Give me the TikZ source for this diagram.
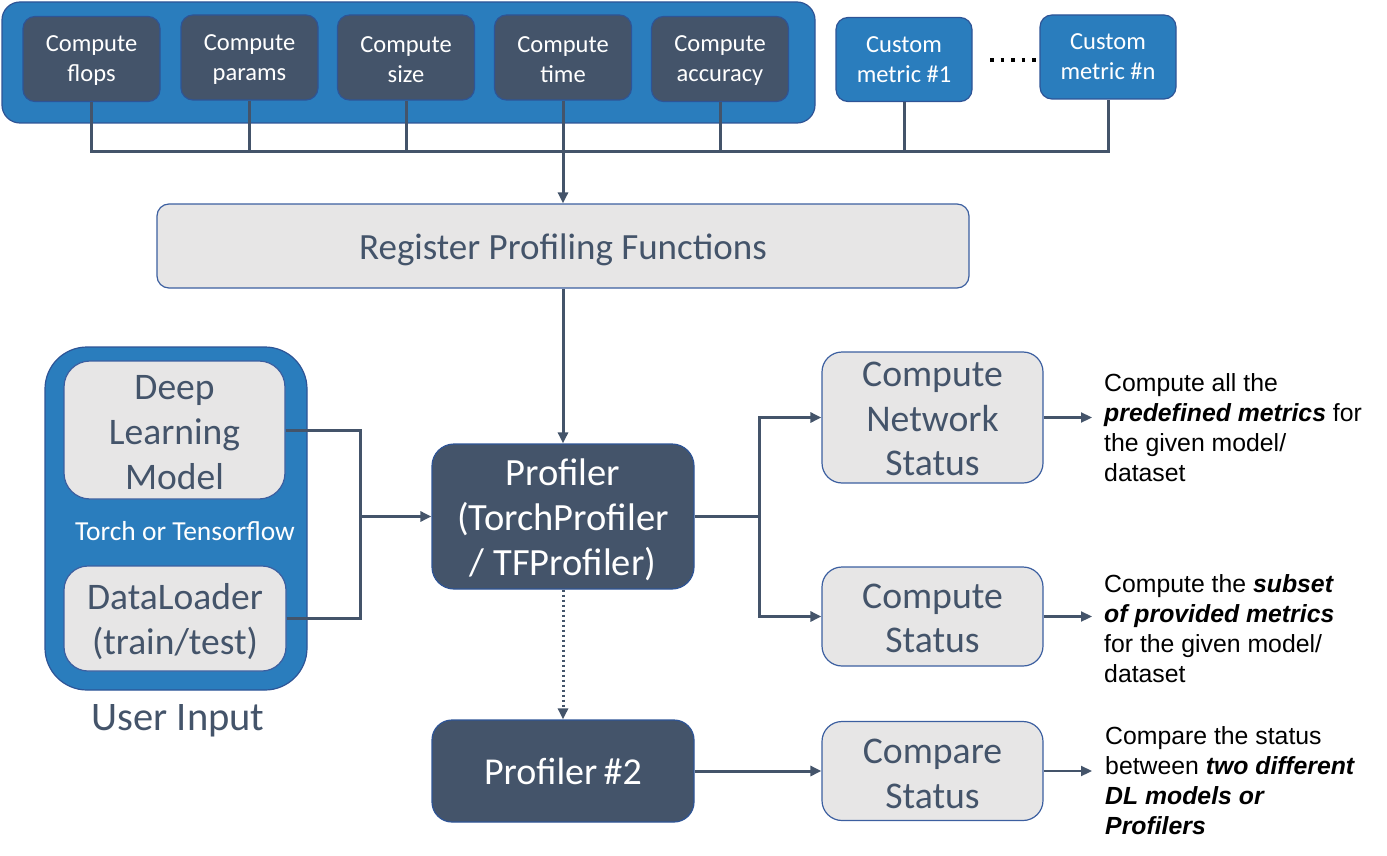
\documentclass[tikz,border=0pt]{standalone}
\usepackage{fontspec}
\setmainfont{Carlito}
\newfontfamily\arialf{Liberation Sans}
\usetikzlibrary{arrows.meta}
\definecolor{darkc}{RGB}{68,84,106}
\definecolor{bluec}{RGB}{42,125,189}
\definecolor{bluebd}{RGB}{46,84,150}
\definecolor{grayc}{RGB}{231,230,230}
\definecolor{grbd}{RGB}{60,95,160}
\begin{document}
\begin{tikzpicture}[x=1pt,y=-1pt,
  box/.style={inner sep=0pt, align=center, line width=1.2pt},
  darkbox/.style={box, fill=darkc, draw=bluebd, text=white},
  metric/.style={darkbox, rounded corners=12pt, minimum width=137pt, minimum height=85pt},
  custom/.style={box, fill=bluec, draw=bluebd, text=white, rounded corners=12pt, minimum width=136pt, minimum height=84pt, font=\fontsize{24.5}{30}\selectfont},
  graybox/.style={box, fill=grayc, draw=grbd, text=darkc},
  container/.style={box, fill=bluec, draw=bluebd},
  wtxt/.style={inner sep=0pt, align=center, text=white},
  gtxt/.style={inner sep=0pt, align=center, text=darkc},
  mtxt/.style={wtxt, font=\fontsize{24.5}{30}\selectfont},
  line/.style={draw=darkc, line width=3pt},
  arr/.style={line, -{Triangle[length=11pt,width=10pt]}},
  ann/.style={anchor=north west, inner sep=0pt, align=left, text=black, font=\arialf\fontsize{24.8}{30}\selectfont}
]
\useasboundingbox (0,0) rectangle (1387,856);

% top container and metric boxes
\node[container, rounded corners=18pt, minimum width=813pt, minimum height=121pt] (topc) at (408.5,62.5) {};
\node[metric] (flops) at (91.5,59) {};
\node[metric] (params) at (249.5,57.5) {};
\node[metric] (size) at (406,57.5) {};
\node[metric] (time) at (563,57.5) {};
\node[metric] (acc) at (720,59) {};
\node[mtxt] (flopsT) at ([yshift=-2pt]flops.center) {Compute\\flops};
\node[mtxt] (paramsT) at ([yshift=-2pt]params.center) {Compute\\params};
\node[mtxt] (sizeT) at ([yshift=-2pt]size.center) {Compute\\size};
\node[mtxt] (timeT) at ([yshift=-2pt]time.center) {Compute\\time};
\node[mtxt] (accT) at ([yshift=-2pt]acc.center) {Compute\\accuracy};
\node[custom] (cm1) at (904,59.5) {Custom\\metric \#1};
\node[custom] (cmn) at (1108,57) {Custom\\metric \#n};
\coordinate (dotsA) at (990,60);
\coordinate (dotsB) at (1038,60);
\draw[black, line width=3.5pt, dash pattern=on 3.5pt off 7pt] (dotsA) -- (dotsB);

% bus
\coordinate (busL) at (91.5,152);
\coordinate (busR) at (1108,152);
\draw[line] (flops.south) -- (busL) -- (busR) -- (cmn.south);
\draw[line] (params.south) -- (params.south |- busL);
\draw[line] (size.south) -- (size.south |- busL);
\draw[line] (acc.south) -- (acc.south |- busL);
\draw[line] (cm1.south) -- (cm1.south |- busL);

% register
\node[graybox, rounded corners=12pt, minimum width=812pt, minimum height=84pt] (reg) at (563,246) {};
\node[gtxt, font=\fontsize{37}{40}\selectfont] (regT) at ([yshift=-3.5pt]reg.center) {Register Profiling Functions};
\draw[arr] (time.south) -- (reg.north);

% profiler
\node[darkbox, rounded corners=22pt, minimum width=262pt, minimum height=145pt] (prof) at (563,516.5) {};
\node[wtxt, font=\fontsize{38.5}{45}\selectfont] (profT) at ([yshift=-3pt]prof.center) {Profiler\\(TorchProfiler\\/ TFProfiler)};
\draw[arr] (reg.south) -- (prof.north);
\node[darkbox, rounded corners=20pt, minimum width=262pt, minimum height=102pt, font=\fontsize{38}{45}\selectfont] (prof2) at (563,771) {Profiler\,\#2};
\draw[arr, dash pattern=on 2.5pt off 2.5pt] (prof.south) -- (prof2.north);

% user input
\node[container, rounded corners=42pt, minimum width=262pt, minimum height=343pt] (user) at (176,518.5) {};
\node[graybox, rounded corners=26pt, minimum width=221pt, minimum height=138pt] (dlm) at (174.5,430) {};
\node[gtxt, font=\fontsize{37.5}{45}\selectfont] (dlmT) at ([yshift=-3pt]dlm.center) {Deep\\Learning\\Model};
\node[graybox, rounded corners=24pt, minimum width=222pt, minimum height=105pt] (dload) at (175,618.5) {};
\node[gtxt, font=\fontsize{37.5}{45}\selectfont] (dloadT) at ([yshift=-3.5pt]dload.center) {DataLoader\\(train/test)};
\node[inner sep=0pt, text=white, font=\fontsize{27.5}{30}\selectfont] (torch) at (185,531) {Torch or Tensorflow};
\node[inner sep=0pt, text=darkc, font=\fontsize{40.5}{44}\selectfont] (ulabel) at (178,721) {User Input};
\coordinate (jL) at (360,516.5);
\draw[line] (dlm.east) -| (jL);
\draw[line] (dload.east) -| (jL);
\draw[arr] (jL) -- (prof.west);

% status boxes
\node[graybox, rounded corners=20pt, minimum width=221pt, minimum height=131pt] (cns) at (932.5,417.5) {};
\node[gtxt, font=\fontsize{37.7}{44.5}\selectfont] (cnsT) at ([yshift=-1.5pt]cns.center) {Compute\\Network\\Status};
\node[graybox, rounded corners=20pt, minimum width=221pt, minimum height=99pt] (cs) at (932.5,616.5) {};
\node[gtxt, font=\fontsize{37.7}{44.5}\selectfont] (csT) at ([yshift=-2pt]cs.center) {Compute\\Status};
\node[graybox, rounded corners=20pt, minimum width=221pt, minimum height=99pt] (cmp) at (932.5,771) {};
\node[gtxt, font=\fontsize{37.7}{44.5}\selectfont] (cmpT) at ([yshift=-3pt]cmp.center) {Compare\\Status};
\coordinate (jR) at (759,516.5);
\draw[line] (prof.east) -- (jR);
\draw[arr] (jR) |- (cns.west);
\draw[arr] (jR) |- (cs.west);
\draw[arr] (prof2.east) -- (cmp.west);

% annotations
\coordinate (e1) at (1092,417.5);
\coordinate (e2) at (1092,616.5);
\coordinate (e3) at (1092,771);
\draw[arr, line width=2.2pt] (cns.east) -- (e1);
\draw[arr, line width=2.2pt] (cs.east) -- (e2);
\draw[arr, line width=2.2pt] (cmp.east) -- (e3);
\node[ann] (t1) at (1104,373) {Compute all the\\\textbf{\textit{predefined metrics}} for\\the given model/\\dataset};
\node[ann] (t2) at (1104,574) {Compute the \textbf{\textit{subset}}\\\textbf{\textit{of provided metrics}}\\for the given model/\\dataset};
\node[ann] (t3) at (1105,726) {Compare the status\\between \textbf{\textit{two different}}\\\textbf{\textit{DL models or}}\\\textbf{\textit{Profilers}}};
\end{tikzpicture}
\end{document}
